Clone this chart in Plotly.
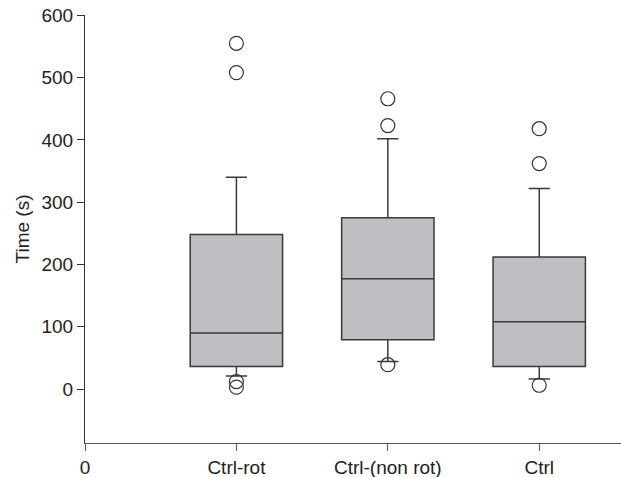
import plotly.graph_objects as go

categories = ["Ctrl-rot", "Ctrl-(non rot)", "Ctrl"]
q1 = [36, 79, 36]
median = [90, 177, 108]
q3 = [248, 275, 212]
lower_fence = [21, 44, 16]
upper_fence = [340, 402, 322]
outliers = [[555, 508, 12, 3], [466, 423, 39], [418, 362, 6]]
x_tick_labels = ["0", "Ctrl-rot", "Ctrl-(non rot)", "Ctrl"]
y_tick_values = [0, 100, 200, 300, 400, 500, 600]

box_positions = [1, 2, 3]
line_col = "#3a3a3a"

fig = go.Figure()
for i, name in enumerate(categories):
    fig.add_trace(go.Box(
        x=[box_positions[i]], q1=[q1[i]], median=[median[i]], q3=[q3[i]],
        lowerfence=[lower_fence[i]], upperfence=[upper_fence[i]],
        width=0.61, whiskerwidth=0.23, boxpoints=False,
        fillcolor="#bebfc2", line=dict(color=line_col, width=1.5),
        name=name, showlegend=False, hoverinfo="skip"))
    fig.add_trace(go.Scatter(
        x=[box_positions[i]] * len(outliers[i]), y=outliers[i], mode="markers",
        marker=dict(symbol="circle-open", size=14, color="#333333", line=dict(width=1.2)),
        showlegend=False, hoverinfo="skip"))

fig.update_layout(
    width=621, height=477,
    margin=dict(l=85, r=0, t=15, b=34),
    paper_bgcolor="white", plot_bgcolor="white",
    font=dict(family="Liberation Sans, Arial, sans-serif", size=19, color="#222222"),
    showlegend=False,
)
fig.update_xaxes(
    range=[0, 3.54], tickmode="array", tickvals=[0, 1, 2, 3], ticktext=x_tick_labels,
    showline=True, linecolor="#555555", linewidth=1.2, ticks="outside", ticklen=7,
    tickcolor="#555555", showgrid=False, zeroline=False,
)
fig.update_yaxes(
    range=[-86.7, 600.5], tickmode="array", tickvals=y_tick_values,
    showline=True, linecolor="#333333", linewidth=1.2, ticks="outside", ticklen=7,
    tickcolor="#333333", showgrid=False, zeroline=False, ticklabeloverflow="allow",
    title=dict(text="Time (s)", standoff=6, font=dict(size=19)),
)
fig.write_html("out.html", config={"displayModeBar": False},
               post_script="document.body.style.margin='0';")
